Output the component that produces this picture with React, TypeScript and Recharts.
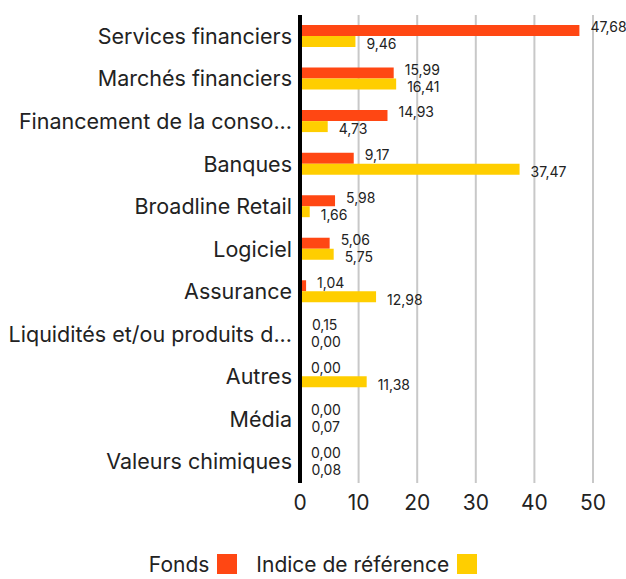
import React from "react";
import {
  BarChart,
  Bar,
  XAxis,
  YAxis,
  CartesianGrid,
  Legend,
  Rectangle,
} from "recharts";

const categories = [
  "Services financiers",
  "Marchés financiers",
  "Financement de la conso...",
  "Banques",
  "Broadline Retail",
  "Logiciel",
  "Assurance",
  "Liquidités et/ou produits d...",
  "Autres",
  "Média",
  "Valeurs chimiques",
];
const fonds = [47.68, 15.99, 14.93, 9.17, 5.98, 5.06, 1.04, 0.15, 0.0, 0.0, 0.0];
const indice = [9.46, 16.41, 4.73, 37.47, 1.66, 5.75, 12.98, 0.0, 11.38, 0.07, 0.08];
const xTicks = [0, 10, 20, 30, 40, 50];

const FONDS_COLOR = "#ff4713";
const INDICE_COLOR = "#ffce00";
const FONT = "Inter, 'Noto Sans', sans-serif";

const data = categories.map((name, i) => ({
  name,
  fonds: fonds[i],
  indice: indice[i],
}));

const fmt = (v: number) => v.toFixed(2).replace(".", ",");

// barre + étiquette dessinées ensemble, pour garder les étiquettes des valeurs nulles
const makeShape = (key: "fonds" | "indice", dy: number) => (props: any) => {
  const { x, y, width, height, fill, payload } = props;
  const w = Math.max(0, width || 0);
  return (
    <g>
      {w > 0 && <Rectangle x={x} y={y} width={w} height={height} fill={fill} />}
      <text
        x={x + w + 11}
        y={y + height / 2 + dy}
        fontSize={14}
        fill="#222"
        fontFamily={FONT}
        dominantBaseline="middle"
      >
        {fmt(Number(payload[key]))}
      </text>
    </g>
  );
};

const LegendContent = () => (
  <div
    style={{
      display: "flex",
      justifyContent: "center",
      alignItems: "center",
      fontFamily: FONT,
      fontSize: 21,
      color: "#222",
      height: 36,
      transform: "translateY(3px)",
    }}
  >
    <span>Fonds</span>
    <span style={{ width: 20, height: 20, background: FONDS_COLOR, marginLeft: 8, marginRight: 19 }} />
    <span>Indice de référence</span>
    <span style={{ width: 20, height: 20, background: INDICE_COLOR, marginLeft: 8 }} />
  </div>
);

export default function App() {
  return (
    <div style={{ position: "absolute", left: 0, top: 0, width: 626, height: 579, background: "#fff" }}>
      <BarChart
        width={626}
        height={579}
        data={data}
        layout="vertical"
        margin={{ top: 15, right: 33, left: 0, bottom: 0 }}
        barSize={11}
        barGap={0}
      >
        <CartesianGrid horizontal={false} stroke="#c8c8c8" strokeWidth={2} />
        <XAxis
          type="number"
          domain={[0, 50]}
          ticks={xTicks}
          axisLine={false}
          tickLine={false}
          height={60}
          tick={{ fontSize: 21, fill: "#222", fontFamily: FONT }}
          tickMargin={6}
        />
        <YAxis
          type="category"
          dataKey="name"
          width={300}
          axisLine={{ stroke: "#000", strokeWidth: 4 }}
          tickLine={false}
          tick={{ fontSize: 21.5, fill: "#222", fontFamily: FONT }}
          interval={0}
        />
        <Legend
          verticalAlign="bottom"
          content={<LegendContent />}
          wrapperStyle={{ height: 36, left: 0, width: 626 }}
        />
        <Bar dataKey="fonds" fill={FONDS_COLOR} isAnimationActive={false} shape={makeShape("fonds", -2)} />
        <Bar dataKey="indice" fill={INDICE_COLOR} isAnimationActive={false} shape={makeShape("indice", 4)} />
      </BarChart>
    </div>
  );
}
